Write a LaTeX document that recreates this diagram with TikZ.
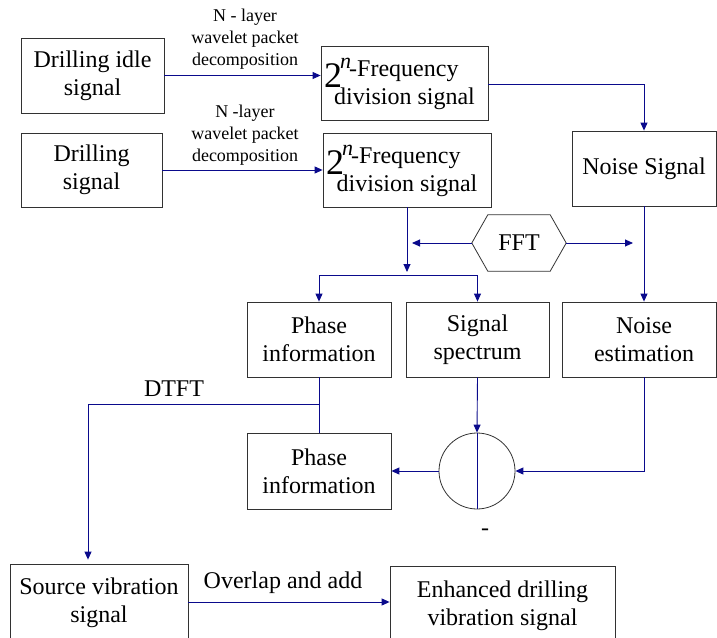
\documentclass[tikz,border=0pt]{standalone}
\usepackage{fontspec}
\setmainfont{Liberation Serif}
\usetikzlibrary{arrows.meta,calc}

\definecolor{boxcol}{RGB}{50,50,50}
\definecolor{linkcol}{RGB}{10,10,140}

\tikzset{
  box/.style={draw=boxcol, line width=0.8pt, inner sep=0pt, align=center,
              font=\fontsize{24}{28}\selectfont},
  boxtext/.style={inner sep=0pt, align=center, font=\fontsize{24}{28}\selectfont},
  small/.style={inner sep=0pt, align=center, font=\fontsize{18}{22}\selectfont},
  link/.style={draw=linkcol, line width=0.9pt},
  tip/.style={-{Triangle[length=8pt,width=7pt]}},
}

\begin{document}
\begin{tikzpicture}[x=1pt,y=-1pt]
\useasboundingbox (0,0) rectangle (717,637);
\clip (0,0) rectangle (717,637);

% input signals
\node[box, minimum width=143, minimum height=75] (d1) at (92.5,75.5) {Drilling idle\\signal};
\node[box, minimum width=141, minimum height=74] (d2) at (91.5,170) {Drilling\\signal};

% decomposition labels
\node[small] (w1) at (245,39.5) {N - layer\\wavelet packet\\decomposition};
\node[small] (w2) at (245,135) {N -layer\\wavelet packet\\decomposition};

% frequency division boxes
\node[box, minimum width=167, minimum height=74] (fd1) at (404.5,83) {};
\node[inner sep=0pt, anchor=base west, font=\fontsize{36}{36}\selectfont] (fd1a) at (324,87) {2};
\node[inner sep=0pt, anchor=base west, font=\fontsize{22}{22}\selectfont\itshape] (fd1b) at (340,68) {n};
\node[inner sep=0pt, anchor=base west, font=\fontsize{24}{24}\selectfont] (fd1c) at (349,76) {-Frequency};
\node[inner sep=0pt, anchor=base, font=\fontsize{24}{24}\selectfont] (fd1d) at (404.5,104) {division signal};

\node[box, minimum width=168, minimum height=74] (fd2) at (407,170) {};
\node[inner sep=0pt, anchor=base west, font=\fontsize{36}{36}\selectfont] (fd2a) at (326,174) {2};
\node[inner sep=0pt, anchor=base west, font=\fontsize{22}{22}\selectfont\itshape] (fd2b) at (342,155) {n};
\node[inner sep=0pt, anchor=base west, font=\fontsize{24}{24}\selectfont] (fd2c) at (351,163) {-Frequency};
\node[inner sep=0pt, anchor=base, font=\fontsize{24}{24}\selectfont] (fd2d) at (407,191) {division signal};

% noise branch
\node[box, minimum width=144, minimum height=75] (ns) at (644,168.5) {Noise Signal};
\node[box, minimum width=154, minimum height=75] (ne) at (639,339.5) {};
\node[boxtext] (netext) at (644,339.5) {Noise\\estimation};

% FFT hexagon
\node[inner sep=0pt, minimum width=94, minimum height=56, font=\fontsize{24}{24}\selectfont] (fft) at (519,243) {FFT};
\draw[boxcol, line width=0.8pt] (fft.west) -- ([xshift=16pt]fft.north west) -- ([xshift=-16pt]fft.north east)
  -- (fft.east) -- ([xshift=-16pt]fft.south east) -- ([xshift=16pt]fft.south west) -- cycle;

% spectrum split
\node[box, minimum width=144, minimum height=75] (pi1) at (319,339.5) {Phase\\information};
\node[box, minimum width=143, minimum height=75] (ss) at (477.5,339.5) {Signal\\spectrum};

% subtraction
\node[draw=boxcol, line width=0.8pt, circle, minimum size=76, inner sep=0pt] (circ) at (477,471) {};
\node[box, minimum width=144, minimum height=76] (pi2) at (319,471) {Phase\\information};
\node[boxtext] (minus) at (485,532) {-};

% outputs
\node[box, minimum width=178, minimum height=78] (sv) at (99,603) {Source vibration\\signal};
\node[box, minimum width=225, minimum height=80] (en) at (502.5,606) {Enhanced drilling\\vibration signal};

\node[boxtext] (dtft) at (174,389) {DTFT};
\node[boxtext, anchor=base] (ola) at (283,588) {Overlap and add};

% junction points
\coordinate (split) at (fd2.south |- 0,275);
\coordinate (fftl) at (412,243);
\coordinate (fftr) at (633,243);
\coordinate (dj) at (pi1.south |- 0,404);
\coordinate (dc) at (88,404);

% connectors
\draw[link, tip] (d1.east) -- (d1.east -| fd1.west);
\draw[link, tip] (d2.east) -- (d2.east -| fd2.west);
\draw[link, tip] ([yshift=-1pt]fd1.east) -| (ns.north);
\draw[link, tip] (fd2.south) -- ([yshift=3pt]split);
\draw[link, tip] (split) -| (pi1.north);
\draw[link, tip] (split) -| (ss.north);
\draw[link, tip] (fft.west) -- (fftl);
\draw[link, tip] (fft.east) -- (fftr);
\draw[link, tip] (ns.south) -- (ns.south |- ne.north);
\draw[link, tip] (ss.south) -- (circ.north);
\draw[link] (circ.north) -- (circ.south);
\draw[link, tip] (ns.south |- ne.south) |- (circ.east);
\draw[link, tip] (circ.west) -- (pi2.east);
\draw[link] (pi1.south) -- (pi2.north);
\draw[link, tip] (dj) -- (dc) -- ([yshift=4pt]dc |- sv.north);
\draw[link, tip] ([yshift=1pt]sv.east) -- ([yshift=1pt]sv.east -| en.west);
\end{tikzpicture}
\end{document}
